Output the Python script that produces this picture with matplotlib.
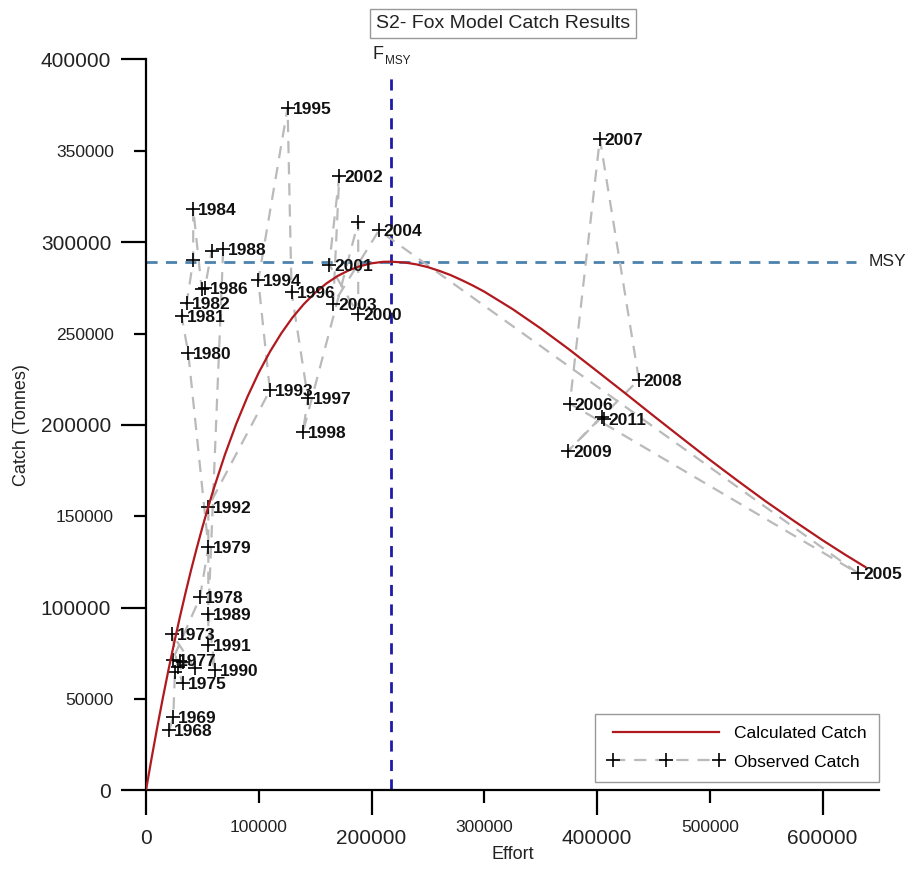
import matplotlib
matplotlib.use("Agg")
import matplotlib.pyplot as plt
from matplotlib.ticker import MultipleLocator, FixedLocator, FormatStrFormatter

plt.rcParams['font.family'] = ['Liberation Sans', 'DejaVu Sans']

# observed catch by year (effort, catch in tonnes)
years = [1968, 1969, 1970, 1971, 1972, 1973, 1974, 1975, 1976, 1977,
         1978, 1979, 1980, 1981, 1982, 1983, 1984, 1985, 1986, 1987,
         1988, 1989, 1990, 1991, 1992, 1993, 1994, 1995, 1996, 1997,
         1998, 1999, 2000, 2001, 2002, 2003, 2004, 2005, 2006, 2007,
         2008, 2009, 2010, 2011]
effort = [20700, 24200, 25700, 33100, 43400, 23300, 28000, 32500, 30000, 23600,
          47900, 55300, 37500, 31600, 36100, 41900, 41900, 49400, 52300, 58200,
          68500, 55300, 61200, 55300, 55300, 109900, 99600, 125600, 129100, 143600,
          139200, 188200, 188200, 162500, 171400, 166000, 206600, 631500, 375900, 402500,
          437100, 374400, 404000, 406000]
catch = [33100, 40000, 65000, 70400, 66800, 85400, 67500, 58600, 71000, 71400,
         105600, 133300, 239400, 259400, 266700, 290000, 318300, 274600, 275100, 295100,
         296400, 96300, 65900, 79600, 155200, 218900, 279100, 373500, 272700, 214600,
         196000, 311000, 260400, 287700, 336000, 266000, 306400, 118800, 211700, 356600,
         224800, 185800, 204500, 203000]
unlabelled = [1970, 1971, 1972, 1974, 1976, 1983, 1985, 1987, 1999, 2010]

# calculated (Fox model) catch
calc_effort = [0, 5000, 10000, 15000, 20000, 25000, 30000, 35000, 40000, 45000,
               50000, 55000, 60000, 70000, 80000, 90000, 100000, 110000, 120000,
               130000, 140000, 150000, 160000, 170000, 180000, 190000, 200000,
               210000, 217000, 230000, 240000, 250000, 260000, 270000, 280000,
               290000, 300000, 325000, 350000, 375000, 400000, 425000, 450000,
               475000, 500000, 525000, 550000, 575000, 600000, 620000, 638000]
calc_catch = [0, 17700, 34600, 50700, 66100, 80700, 94700, 107900, 120600, 132500,
              143900, 154700, 164900, 183700, 200500, 215400, 228600, 240100, 250100,
              258800, 266100, 272300, 277400, 281500, 284600, 286900, 288400,
              289200, 289300, 288800, 287800, 286300, 284300, 282000, 279200,
              276200, 272900, 263400, 252800, 241400, 229400, 217300, 205000,
              192900, 180900, 169300, 158000, 147300, 136900, 129000, 122200]

f_msy = 217000
msy = 289300

fig = plt.figure(figsize=(9.18, 8.75), dpi=100)
ax = fig.add_axes([0.159, 0.0966, 0.7985, 0.8356])

ax.plot(calc_effort, calc_catch, color='#b0191e', lw=1.6, label='Calculated Catch', zorder=3)
ax.plot(effort, catch, color='#bababa', lw=1.6, ls=(0, (5.5, 4)), marker='+',
        mec='black', ms=9.5, mew=1.2, label='Observed Catch', zorder=2)

for yr, x, y in zip(years, effort, catch):
    if yr in unlabelled:
        continue
    ax.annotate(str(yr), (x, y), xytext=(3.5, 0), textcoords='offset points',
                ha='left', va='center_baseline', fontsize=12.5, fontweight='bold',
                color='#111111', zorder=4)

ax.plot([f_msy, f_msy], [0, 393000], color='#1c1ca8', lw=2, ls=(0, (4, 3)), zorder=1,
        clip_on=False)
ax.plot([0, 630000], [msy, msy], color='#4d82ad', lw=2, ls=(0, (4, 3)), zorder=1)
ax.text(641000, msy, 'MSY', fontsize=12.5, ha='left', va='center', color='#222222')
ax.text(201000, 398000, 'F', fontsize=13, ha='left', va='bottom', color='#222222',
        clip_on=False)
ax.text(212000, 396000, 'MSY', fontsize=8.5, ha='left', va='bottom', color='#222222',
        clip_on=False)

ax.set_xlim(0, 650000)
ax.set_ylim(0, 400000)
for side in ['top', 'right']:
    ax.spines[side].set_visible(False)
for side in ['left', 'bottom']:
    ax.spines[side].set_linewidth(1.6)

ax.xaxis.set_major_locator(FixedLocator([0, 200000, 400000, 600000]))
ax.xaxis.set_minor_locator(FixedLocator([100000, 300000, 500000]))
ax.yaxis.set_major_locator(MultipleLocator(100000))
ax.yaxis.set_minor_locator(FixedLocator([50000, 150000, 250000, 350000]))
ax.xaxis.set_minor_formatter(FormatStrFormatter('%d'))
ax.yaxis.set_minor_formatter(FormatStrFormatter('%d'))
ax.ticklabel_format(style='plain', axis='both')

ax.tick_params(which='major', length=18, width=1.6, labelsize=15, pad=7, labelcolor='#222222')
ax.tick_params(which='minor', length=9, width=1.6, labelsize=12.5, labelcolor='#222222')
ax.tick_params(axis='y', which='minor', pad=14)
ax.tick_params(axis='x', which='major', pad=10)
ax.tick_params(axis='x', which='minor', pad=12)

ax.set_xlabel('Effort', fontsize=13, color='#222222', labelpad=-2)
ax.set_ylabel('Catch (Tonnes)', fontsize=13, color='#222222', labelpad=8)

fig.text(0.548, 0.973, 'S2- Fox Model Catch Results', fontsize=14, ha='center', va='center',
         color='#222222',
         bbox=dict(boxstyle='square,pad=0.3', fc='white', ec='#999999', lw=1))

leg = ax.legend(loc='lower right', bbox_to_anchor=(1.0, 0.012), borderaxespad=0,
                numpoints=3, handlelength=6.7, handletextpad=0.6, labelspacing=0.75,
                borderpad=0.7, fontsize=12.5, fancybox=False,
                edgecolor='#999999', framealpha=1)
leg.get_frame().set_linewidth(1)

fig.savefig('out.png', dpi=100)
